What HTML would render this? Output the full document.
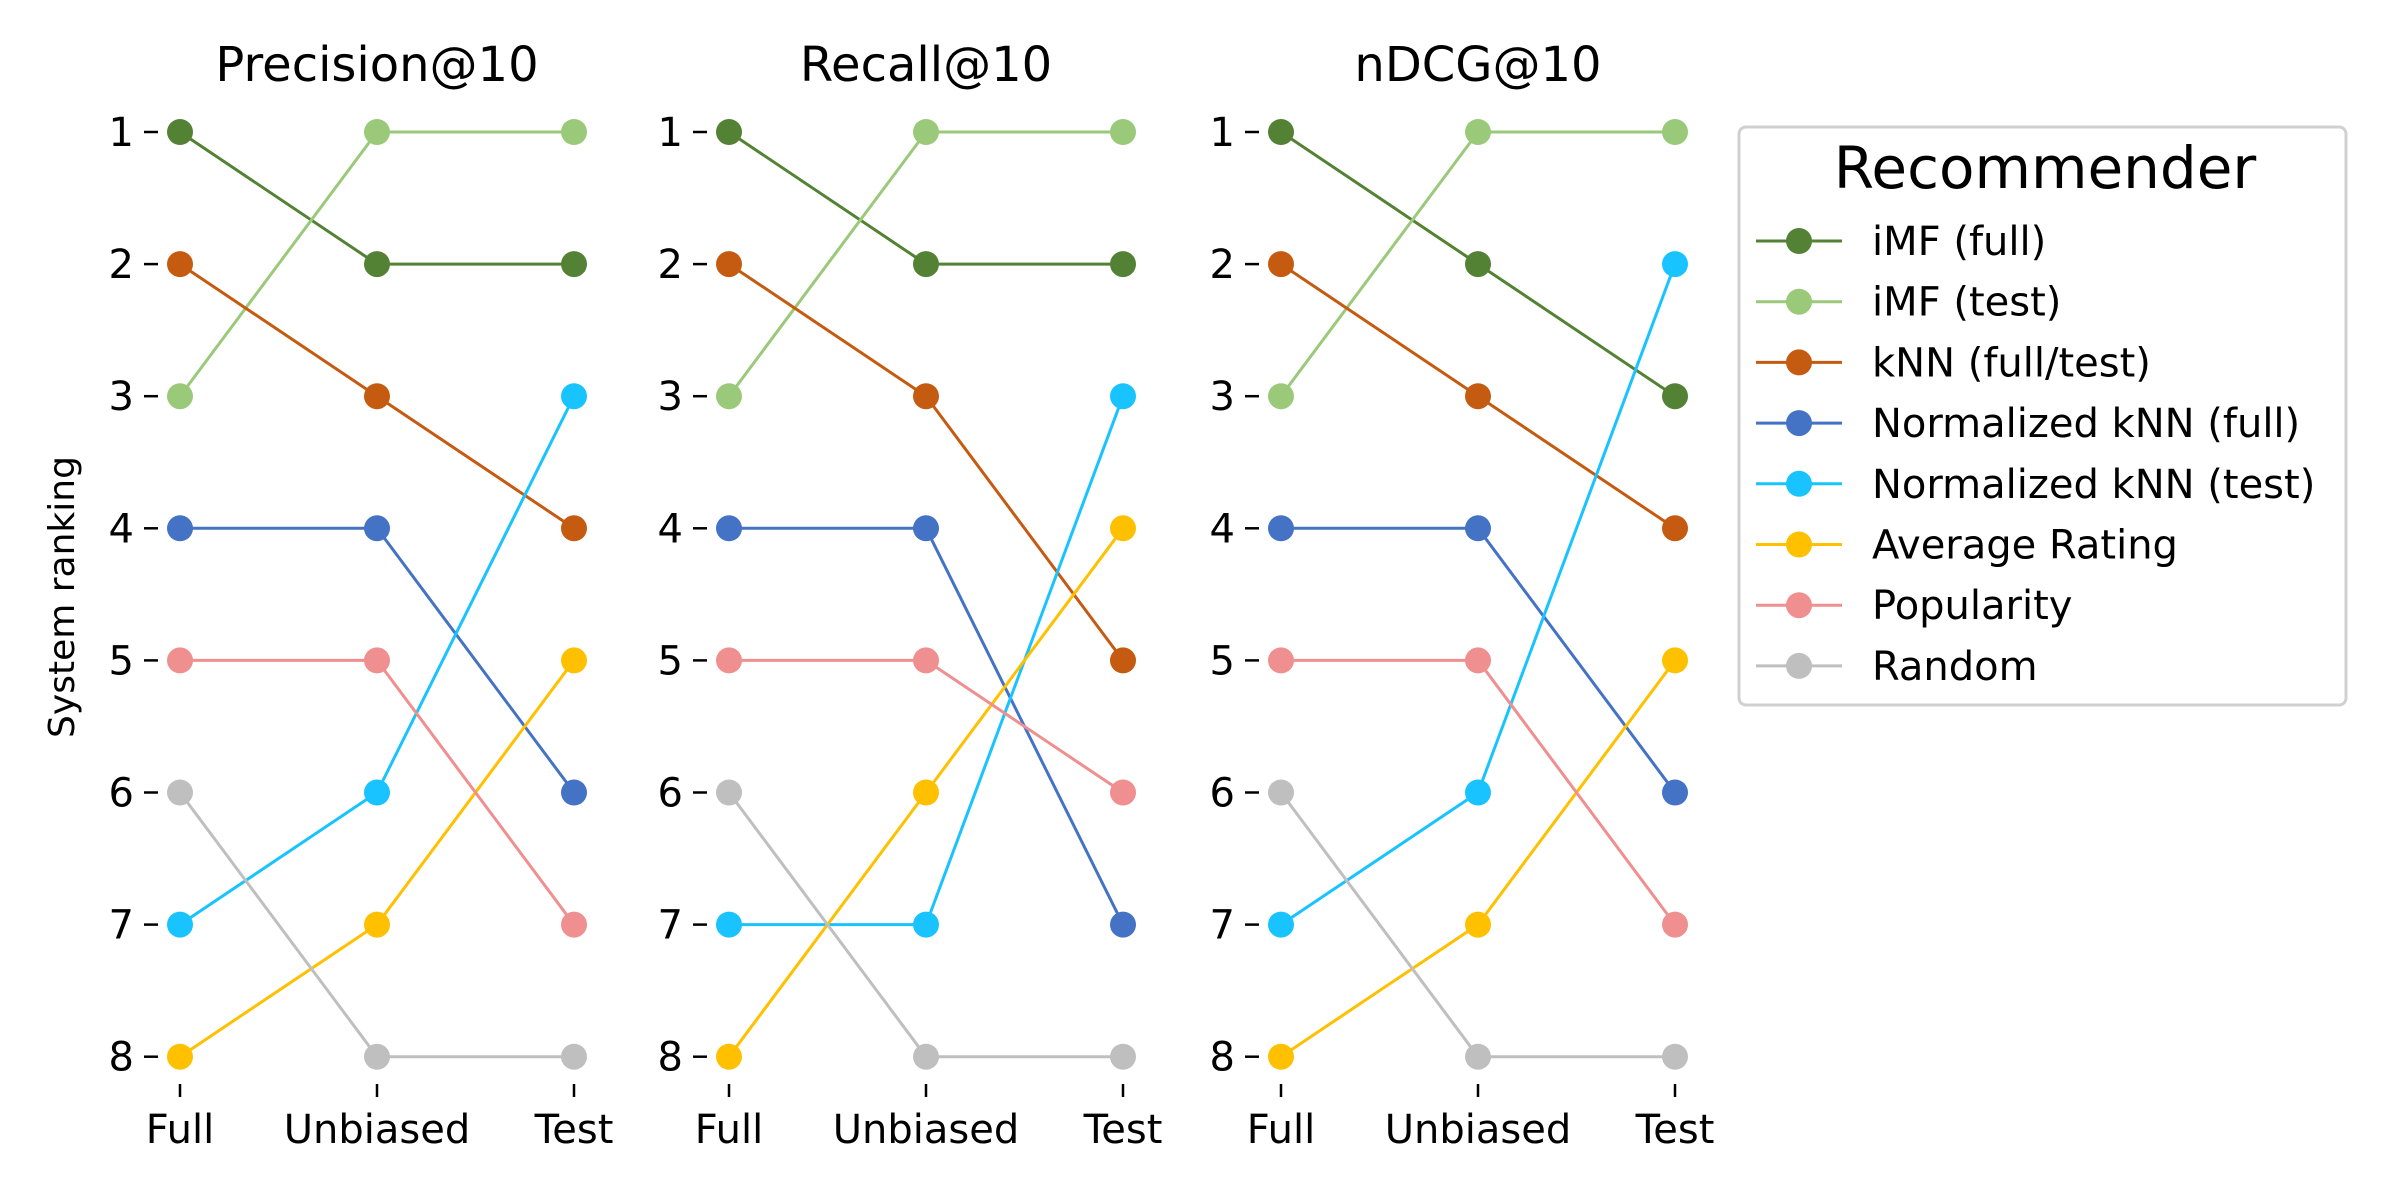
<!DOCTYPE html>
<html><head><meta charset="utf-8"><style>
html,body{margin:0;padding:0;background:#fff;width:2400px;height:1200px;overflow:hidden}
text{font-family:"DejaVu Sans","Liberation Sans",sans-serif;fill:#000}
</style></head><body>
<svg id="chart" width="2400" height="1200" xmlns="http://www.w3.org/2000/svg"></svg>
<script>
const panels = ["Precision@10","Recall@10","nDCG@10"];
const stages = ["Full","Unbiased","Test"];
const seriesNames = ["iMF (full)","iMF (test)","kNN (full/test)","Normalized kNN (full)","Normalized kNN (test)","Average Rating","Popularity","Random"];
const colors = ["#548235","#9BC97A","#C55A11","#4472C4","#19C3FF","#FFC000","#F08F8F","#BFBFBF"];
const precisionRanks = [[1,2,2],[3,1,1],[2,3,4],[4,4,6],[7,6,3],[8,7,5],[5,5,7],[6,8,8]];
const recallRanks = [[1,2,2],[3,1,1],[2,3,5],[4,4,7],[7,7,3],[8,6,4],[5,5,6],[6,8,8]];
const ndcgRanks = [[1,2,3],[3,1,1],[2,3,4],[4,4,6],[7,6,2],[8,7,5],[5,5,7],[6,8,8]];
const rankTicks = [1,2,3,4,5,6,7,8];
const allRanks = [precisionRanks, recallRanks, ndcgRanks];

const svg = document.getElementById('chart');
const NS = "http://www.w3.org/2000/svg";
function mk(tag, attrs, parent){const e=document.createElementNS(NS,tag);for(const k in attrs)e.setAttribute(k,attrs[k]);(parent||svg).appendChild(e);return e;}
const panelLeft=[180,729,1281], panelStep=197;
function yScale(r){return 132+(r-1)*132.1;}
function xScale(p,i){return panelLeft[p]+i*panelStep;}

panels.forEach((title,p)=>{
  const g=mk('g',{});
  
  
  const t=mk('text',{x:xScale(p,1),y:81,'text-anchor':'middle','font-size':48},g);
  t.textContent=title;
  
  
  rankTicks.forEach(r=>{
    const tk=mk('line',{x1:xScale(p,0)-36,x2:xScale(p,0)-22,y1:yScale(r),y2:yScale(r),stroke:'#000','stroke-width':2.5},g);
    
    
    const l=mk('text',{x:xScale(p,0)-46,y:yScale(r)+14,'text-anchor':'end','font-size':40},g);
    l.textContent=r;
    
    
  });
  stages.forEach((s,i)=>{
    const tk=mk('line',{x1:xScale(p,i),x2:xScale(p,i),y1:1084,y2:1097,stroke:'#000','stroke-width':2.5},g);
    
    
    const l=mk('text',{x:xScale(p,i),y:1143,'text-anchor':'middle','font-size':40},g);
    l.textContent=s;
    
    
  });
  allRanks[p].forEach((ranks,si)=>{
    const pts=ranks.map((r,i)=>xScale(p,i)+','+yScale(r)).join(' ');
    const pl=mk('polyline',{points:pts,fill:'none',stroke:colors[si],'stroke-width':3},g);
    
    
  });
  allRanks[p].forEach((ranks,si)=>{
    ranks.forEach((r,i)=>{
      const c=mk('circle',{cx:xScale(p,i),cy:yScale(r),r:13,fill:colors[si]},g);
      
      
    });
  });
});
const yl=mk('text',{x:0,y:0,transform:'translate(74,597) rotate(-90)','text-anchor':'middle','font-size':36});
yl.textContent='System ranking';



const lg=mk('g',{});


mk('rect',{x:1739,y:127,width:607,height:578,rx:7,fill:'#fff',stroke:'#d0d0d0','stroke-width':3},lg);
const lt=mk('text',{x:2045,y:188,'text-anchor':'middle','font-size':58},lg);
lt.textContent='Recommender';


seriesNames.forEach((n,i)=>{
  const y=241+i*60.7;
  const e=mk('g',{},lg);
  
  
  mk('line',{x1:1756,x2:1842,y1:y,y2:y,stroke:colors[i],'stroke-width':3},e);
  mk('circle',{cx:1799,cy:y,r:13,fill:colors[i]},e);
  const t=mk('text',{x:1872,y:y+14,'font-size':40},e);
  t.textContent=n;
});
</script>
</body></html>
